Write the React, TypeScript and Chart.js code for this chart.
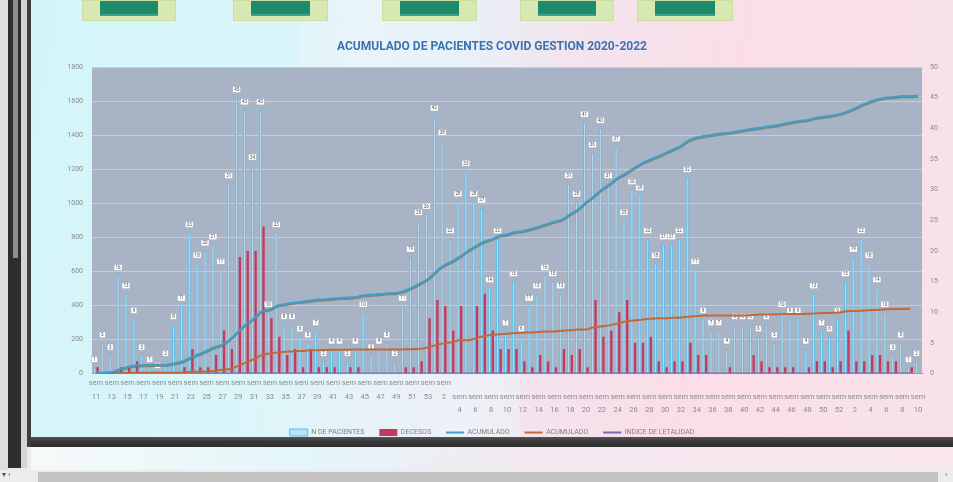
import React, { useEffect, useRef } from 'react';
import { Chart, registerables } from 'chart.js';
Chart.register(...registerables);

// ---- DATA ----
const weeks2020 = [11, 12, 13, 14, 15, 16, 17, 18, 19, 20, 21, 22, 23, 24, 25, 26, 27, 28, 29, 30, 31, 32, 33, 34, 35, 36, 37, 38, 39, 40, 41, 42, 43, 44, 45, 46, 47, 48, 49, 50, 51, 52, 53];
const weeks2021 = [1, 2, 3, 4, 5, 6, 7, 8, 9, 10, 11, 12, 13, 14, 15, 16, 17, 18, 19, 20, 21, 22, 23, 24, 25, 26, 27, 28, 29, 30, 31, 32, 33, 34, 35, 36, 37, 38, 39, 40, 41, 42, 43, 44, 45, 46, 47, 48, 49, 50, 51, 52];
const weeks2022 = [1, 2, 3, 4, 5, 6, 7, 8, 9, 10];
const categories = [...weeks2020, ...weeks2021, ...weeks2022].map((w) => `sem ${w}`);

// weekly patients (right axis)
const pacientes = [
  1, 5, 3, 16, 13, 9, 3, 1, 0, 2,
  8, 11, 23, 18, 20, 21, 17, 31, 45, 43,
  34, 43, 10, 23, 8, 8, 6, 5, 7, 2,
  4, 4, 2, 4, 10, 3, 4, 5, 2, 11,
  19, 25, 26, 42, 38, 22, 28, 33, 28, 27,
  14, 22, 7, 15, 6, 11, 13, 16, 15, 13,
  31, 28, 41, 36, 40, 31, 37, 25, 30, 29,
  22, 18, 21, 21, 22, 32, 17, 9, 7, 7,
  4, 8, 8, 8, 6, 8, 5, 10, 9, 9,
  4, 13, 7, 6, 9, 15, 19, 22, 18, 14,
  10, 3, 5, 1, 2,
];

// weekly deaths (right axis)
const decesos = [
  1, 0, 0, 1, 1, 2, 0, 0, 0, 0,
  0, 1, 4, 1, 1, 3, 7, 4, 19, 20,
  20, 24, 9, 6, 3, 4, 1, 4, 1, 1,
  1, 0, 1, 1, 0, 0, 0, 0, 0, 1,
  1, 2, 9, 12, 11, 7, 11, 0, 11, 13,
  7, 4, 4, 4, 2, 1, 3, 2, 1, 4,
  3, 4, 1, 12, 6, 7, 10, 12, 5, 5,
  6, 2, 1, 2, 2, 5, 3, 3, 0, 0,
  1, 0, 0, 3, 2, 1, 1, 1, 1, 0,
  1, 2, 2, 1, 2, 7, 2, 2, 3, 3,
  2, 2, 0, 1, null,
];

// cumulative patients (left axis)
const acumPacientes = [
  1, 6, 9, 25, 38, 47, 50, 51, 51, 53,
  61, 72, 95, 113, 133, 154, 171, 202, 247, 290,
  324, 367, 377, 400, 408, 416, 422, 427, 434, 436,
  440, 444, 446, 450, 460, 463, 467, 472, 474, 485,
  504, 529, 555, 597, 635, 657, 685, 718, 746, 773,
  787, 809, 816, 831, 837, 848, 861, 877, 892, 905,
  936, 964, 1005, 1041, 1081, 1112, 1149, 1174, 1204, 1233,
  1255, 1273, 1294, 1315, 1337, 1369, 1386, 1395, 1402, 1409,
  1413, 1421, 1429, 1437, 1443, 1451, 1456, 1466, 1475, 1484,
  1488, 1501, 1508, 1514, 1523, 1538, 1557, 1579, 1597, 1611,
  1621, 1624, 1629, 1630, 1632,
];

// cumulative deaths (left axis)
const acumDecesos = [
  1, 1, 1, 2, 3, 5, 5, 5, 5, 5,
  5, 6, 10, 11, 12, 15, 22, 26, 45, 65,
  85, 109, 118, 124, 127, 131, 132, 136, 137, 138,
  139, 139, 140, 141, 141, 141, 141, 141, 141, 142,
  143, 145, 154, 166, 177, 184, 195, 195, 206, 219,
  226, 230, 234, 238, 240, 241, 244, 246, 247, 251,
  254, 258, 259, 271, 277, 284, 294, 306, 311, 316,
  322, 324, 325, 327, 329, 334, 337, 340, 340, 340,
  341, 341, 341, 344, 346, 347, 348, 349, 350, 350,
  351, 353, 355, 356, 358, 365, 367, 369, 372, 375,
  377, 379, 379, 380, null,
];

// lethality index = cumulative deaths / cumulative patients (left axis, lies on the baseline)
const letalidad = acumPacientes.map((p, i) => (acumDecesos[i] == null ? null : (acumDecesos[i] as number) / p));

const leftTicks = { min: 0, max: 1800, step: 200 };
const rightTicks = { min: 0, max: 50, step: 5 };

const TITLE = 'ACUMULADO DE PACIENTES COVID GESTION 2020-2022';
const FONT = 'Roboto, "Open Sans", sans-serif';

const plugin = {
  id: 'custom',
  beforeDraw(chart: any) {
    const { ctx, chartArea } = chart;
    if (!chartArea) return;
    ctx.save();
    ctx.fillStyle = '#a8b3c6';
    ctx.fillRect(chartArea.left, chartArea.top, chartArea.right - chartArea.left, chartArea.bottom - chartArea.top);
    ctx.restore();
  },
  beforeDatasetDraw(chart: any, args: any) {
    if (args.index === 2) {
      const c = chart.ctx;
      c.save();
      c.shadowColor = 'rgba(120,110,80,0.7)';
      c.shadowOffsetX = 0;
      c.shadowOffsetY = 1.2;
      c.shadowBlur = 0;
    }
  },
  afterDatasetDraw(chart: any, args: any) {
    if (args.index === 2) {
      chart.ctx.restore();
    }
    if (args.index === 0) {
      const ctx = chart.ctx;
      ctx.save();
      ctx.font = `4.5px ${FONT}`;
      ctx.textAlign = 'center';
      ctx.textBaseline = 'middle';
      args.meta.data.forEach((el: any, i: number) => {
        const v = pacientes[i];
        if (v == null) return;
        const text = String(v);
        const w = text.length > 1 ? 8 : 6;
        const h = 6;
        const x = el.x;
        const y = el.y - 8;
        ctx.fillStyle = '#ffffff';
        ctx.strokeStyle = '#9ea8b8';
        ctx.lineWidth = 0.5;
        ctx.fillRect(x - w / 2, y - h / 2, w, h);
        ctx.strokeRect(x - w / 2, y - h / 2, w, h);
        ctx.fillStyle = '#4a4a4a';
        ctx.fillText(text, x, y + 0.3);
      });
      ctx.restore();
    }
  },
};

function ChartView() {
  const ref = useRef<HTMLCanvasElement | null>(null);
  useEffect(() => {
    if (!ref.current) return;
    const chart = new Chart(ref.current, {
      type: 'bar',
      data: {
        labels: categories,
        datasets: [
          {
            type: 'bar',
            label: 'N DE PACIENTES',
            data: pacientes,
            yAxisID: 'y1',
            backgroundColor: '#b4e4f8',
            borderColor: '#5dbde8',
            borderWidth: 1,
            barPercentage: 0.9,
            categoryPercentage: 0.8,
            order: 2,
            pointStyle: 'rect',
          } as any,
          {
            type: 'bar',
            label: 'DECESOS',
            data: decesos,
            yAxisID: 'y1',
            backgroundColor: '#c43a5e',
            borderColor: '#c43a5e',
            borderWidth: 0,
            barPercentage: 0.75,
            categoryPercentage: 0.8,
            order: 2,
            pointStyle: 'rect',
          } as any,
          {
            type: 'line',
            label: 'ACUMULADO',
            data: acumPacientes,
            yAxisID: 'y',
            borderColor: '#3e9fcb',
            backgroundColor: '#3e9fcb',
            borderWidth: 2,
            pointRadius: 0,
            cubicInterpolationMode: 'monotone',
            order: 1,
            pointStyle: 'line',
          } as any,
          {
            type: 'line',
            label: 'ACUMULADO',
            data: acumDecesos,
            yAxisID: 'y',
            borderColor: '#c2693a',
            backgroundColor: '#c2693a',
            borderWidth: 2,
            pointRadius: 0,
            cubicInterpolationMode: 'monotone',
            order: 1,
            pointStyle: 'line',
          } as any,
          {
            type: 'line',
            label: 'INDICE DE LETALIDAD',
            data: letalidad,
            yAxisID: 'y',
            borderColor: '#7a6ab4',
            backgroundColor: '#7a6ab4',
            borderWidth: 2,
            pointRadius: 0,
            order: 1,
            pointStyle: 'line',
          } as any,
        ],
      },
      options: {
        responsive: false,
        maintainAspectRatio: false,
        animation: false,
        layout: { padding: { left: 0, right: 0, top: 0, bottom: 0 } },
        plugins: {
          tooltip: { enabled: false },
          title: {
            display: true,
            text: TITLE,
            color: '#3b72b4',
            font: { size: 12, weight: 'bold', family: FONT },
            padding: { top: 20, bottom: 12.6 },
          },
          legend: {
            display: true,
            position: 'bottom',
            labels: {
              usePointStyle: true,
              pointStyleWidth: 18,
              boxHeight: 7,
              padding: 15,
              color: '#808080',
              font: { size: 7, family: FONT },
              sort: (a: any, b: any) => a.datasetIndex - b.datasetIndex,
            },
          },
        },
        scales: {
          x: {
            grid: { display: false, drawTicks: false },
            border: { display: true, color: '#8f98c8', width: 1 },
            afterFit: (axis: any) => { axis.height = 40.5; },
            ticks: {
              autoSkip: false,
              maxRotation: 0,
              minRotation: 0,
              padding: 3,
              color: '#8a8a8a',
              font: { size: 7.5, family: FONT, lineHeight: 1.8 },
              callback: (_v: any, index: number) => {
                if (index % 2 !== 0) return '';
                const num = categories[index].replace('sem ', '');
                return index <= 44 ? ['sem', num] : ['', 'sem', num];
              },
            },
          },
          y: {
            position: 'left',
            min: leftTicks.min,
            max: leftTicks.max,
            afterFit: (axis: any) => { axis.width = 61; },
            grid: { color: '#c6cdd9', lineWidth: 1, drawTicks: false },
            border: { display: false },
            ticks: {
              stepSize: leftTicks.step,
              padding: 9,
              color: '#8a8a8a',
              font: { size: 7, family: FONT },
              callback: (v: any) => String(v),
            },
          },
          y1: {
            position: 'right',
            min: rightTicks.min,
            max: rightTicks.max,
            afterFit: (axis: any) => { axis.width = 31; },
            grid: { display: false, drawOnChartArea: false, drawTicks: false },
            border: { display: false },
            ticks: {
              stepSize: rightTicks.step,
              padding: 8,
              color: '#8a8a8a',
              font: { size: 7, family: FONT },
              callback: (v: any) => String(v),
            },
          },
        },
      } as any,
      plugins: [plugin as any],
    });
    return () => chart.destroy();
  }, []);
  return <canvas ref={ref} width={922} height={426} style={{ display: 'block', width: 922, height: 426 }} />;
}

const greenBoxes = [
  { x: 82, w: 94 },
  { x: 233, w: 95 },
  { x: 382, w: 95 },
  { x: 520, w: 94 },
  { x: 637, w: 96 },
];

export default function App() {
  return (
    <div style={{ position: 'fixed', left: 0, top: 0, width: 953, height: 482, overflow: 'hidden', background: '#e9e9e9' }}>
      {/* slide background */}
      <div
        style={{
          position: 'absolute', left: 31, top: 0, width: 922, height: 437,
          background: 'linear-gradient(100deg, #d3f5f9 0%, #dbf6fa 28%, #e6f1f8 42%, #f3e4ee 55%, #fadde8 72%, #f8e2ea 100%)',
        }}
      />
      <div
        style={{
          position: 'absolute', left: 300, top: 0, width: 220, height: 437,
          background: 'linear-gradient(75deg, rgba(255,255,255,0) 0%, rgba(236,244,250,0.7) 50%, rgba(255,255,255,0) 100%)',
        }}
      />
      {greenBoxes.map((b, i) => (
        <div key={i} style={{ position: 'absolute', left: b.x, top: 0, width: b.w, height: 21, background: '#d8e8b2', border: '1px solid #cadf9f', boxSizing: 'border-box' }}>
          <div style={{ position: 'absolute', left: 17, right: 17, top: 0, height: 13, background: '#1d8a6c', borderBottom: '2px solid #3aa285' }} />
        </div>
      ))}
      <div style={{ position: 'absolute', left: 31, top: 20 }}>
        <ChartView />
      </div>
      {/* dark band */}
      <div style={{ position: 'absolute', left: 31, top: 437, width: 922, height: 10, background: 'linear-gradient(180deg, #555 0%, #3a3a3a 40%, #2c2c2c 100%)' }} />
      {/* next slide strip */}
      <div style={{ position: 'absolute', left: 31, top: 447, width: 922, height: 24, background: 'linear-gradient(100deg, #f6f9fa 0%, #e3f6f9 30%, #f4e8f0 55%, #fae6ee 100%)' }} />
      {/* left frame */}
      <div style={{ position: 'absolute', left: 0, top: 0, width: 8, height: 482, background: '#dedede' }} />
      <div style={{ position: 'absolute', left: 8, top: 0, width: 13, height: 468, background: '#2e2e2e' }} />
      <div style={{ position: 'absolute', left: 13, top: 0, width: 5, height: 258, background: '#8e8e8e' }} />
      <div style={{ position: 'absolute', left: 21, top: 0, width: 6, height: 468, background: '#d4d4d4' }} />
      <div style={{ position: 'absolute', left: 27, top: 0, width: 4, height: 447, background: '#3e3e3e' }} />
      {/* bottom scrollbar */}
      <div style={{ position: 'absolute', left: 0, top: 470, width: 953, height: 12, background: '#ececec' }} />
      <div style={{ position: 'absolute', left: 38, top: 472, width: 900, height: 10, background: '#c2c2c2' }} />
      <div style={{ position: 'absolute', left: 2, top: 470, fontSize: 8, color: '#555', fontFamily: FONT }}>▾ ‹</div>
      <div style={{ position: 'absolute', left: 945, top: 470, fontSize: 8, color: '#555', fontFamily: FONT }}>›</div>
    </div>
  );
}
